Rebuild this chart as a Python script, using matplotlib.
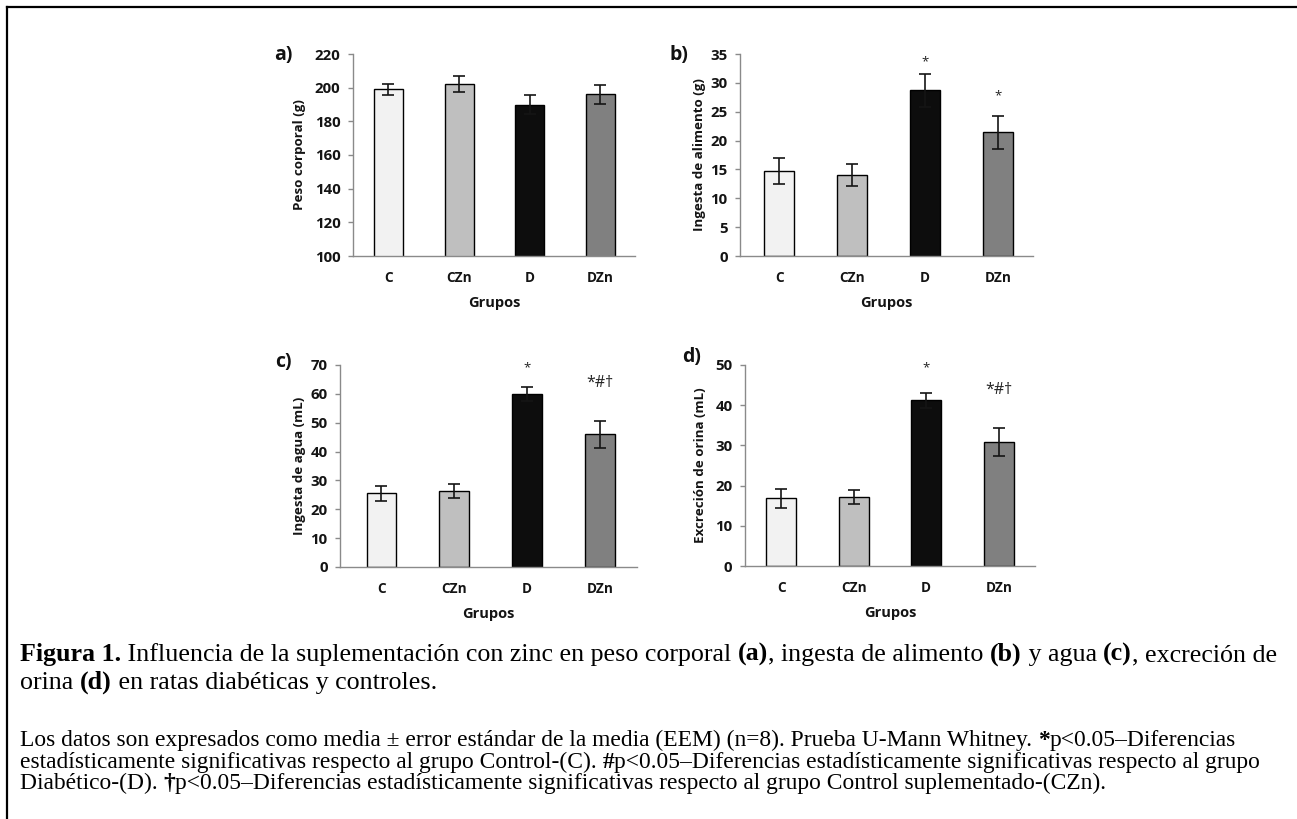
import matplotlib
matplotlib.use("Agg")
import matplotlib.pyplot as plt
from matplotlib.lines import Line2D

W, H, DPI = 1297, 819, 100

# ---- data -------------------------------------------------------------
groups = ["C", "CZn", "D", "DZn"]
bar_colors = ["#f2f2f2", "#bfbfbf", "#0d0d0d", "#808080"]

peso_mean = [199.0, 202.0, 190.0, 196.0]
peso_sem = [3.4, 4.8, 5.5, 5.7]

alimento_mean = [14.7, 14.0, 28.7, 21.4]
alimento_sem = [2.3, 1.9, 2.8, 2.9]

agua_mean = [25.6, 26.4, 60.0, 46.0]
agua_sem = [2.6, 2.5, 2.5, 4.7]

orina_mean = [16.8, 17.1, 41.2, 30.8]
orina_sem = [2.3, 1.7, 1.9, 3.5]

marks_b = ["", "", "*", "*"]
marks_cd = ["", "", "*", "*#†"]

# ---- figure -----------------------------------------------------------
fig = plt.figure(figsize=(W / DPI, H / DPI), dpi=DPI)
fig.patch.set_facecolor("white")

SANS = ["Open Sans", "DejaVu Sans"]
SERIF = ["Liberation Serif", "DejaVu Serif"]
SPINE = "#8a8a8a"
INK = "#141414"


def px_rect(l, t, r, b):
    return [l / W, 1 - b / H, (r - l) / W, (b - t) / H]


panels = [
    dict(tag="a)", mean=peso_mean, sem=peso_sem, marks=None,
         ylabel="Peso corporal (g)", ylim=(100, 220), step=20,
         box=(353, 54, 635, 256), xlim=(-0.5, 3.49), ylab_dx=53,
         tag_xy=(283, 55), offs=None),
    dict(tag="b)", mean=alimento_mean, sem=alimento_sem, marks=marks_b,
         ylabel="Ingesta de alimento (g)", ylim=(0, 35), step=5,
         box=(740, 54, 1033, 256), xlim=(-0.54, 3.48), ylab_dx=40,
         tag_xy=(679, 55), offs=[0, 0, 12, 20]),
    dict(tag="c)", mean=agua_mean, sem=agua_sem, marks=marks_cd,
         ylabel="Ingesta de agua (mL)", ylim=(0, 70), step=10,
         box=(340, 365, 637, 567), xlim=(-0.57, 3.51), ylab_dx=40,
         tag_xy=(283, 362), offs=[0, 0, 19, 38]),
    dict(tag="d)", mean=orina_mean, sem=orina_sem, marks=marks_cd,
         ylabel="Excreción de orina (mL)", ylim=(0, 50), step=10,
         box=(745, 365, 1035, 566), xlim=(-0.5, 3.5), ylab_dx=45,
         tag_xy=(692, 357), offs=[0, 0, 25, 38]),
]

for p in panels:
    l, t, r, b = p["box"]
    ax = fig.add_axes(px_rect(l, t, r, b))
    x = list(range(len(groups)))
    ax.bar(x, p["mean"], width=0.41, color=bar_colors, edgecolor="black",
           linewidth=1.0, yerr=p["sem"], capsize=4.2,
           error_kw=dict(elinewidth=1.2, capthick=1.2, ecolor="#151515"),
           zorder=2)
    ax.set_xlim(*p["xlim"])
    ax.set_ylim(*p["ylim"])
    lo, hi = p["ylim"]
    ax.set_yticks(range(lo, hi + 1, p["step"]))
    ax.set_xticks(x)
    ax.set_xticklabels(groups, fontfamily=SANS, fontweight="bold",
                       fontsize=9.8, color=INK)
    for lab in ax.get_yticklabels():
        lab.set_fontfamily(SANS)
        lab.set_fontweight("bold")
        lab.set_fontsize(10.8)
        lab.set_color(INK)
    for s in ("top", "right"):
        ax.spines[s].set_visible(False)
    for s in ("left", "bottom"):
        ax.spines[s].set_color(SPINE)
        ax.spines[s].set_linewidth(1.0)
    ax.tick_params(axis="y", length=3.5, width=1.0, color=SPINE, pad=5.5)
    ax.tick_params(axis="x", length=0, pad=10.5)

    ax.set_ylabel(p["ylabel"], fontfamily=SANS, fontweight="bold",
                  fontsize=9.6, color=INK)
    ax.yaxis.label.set_va("center")
    ax.yaxis.set_label_coords(-p["ylab_dx"] / (r - l), 0.5)
    ax.set_xlabel("Grupos", fontfamily=SANS, fontweight="bold",
                  fontsize=10.5, color=INK)
    ax.xaxis.label.set_va("center")
    ax.xaxis.set_label_coords(0.5, -47 / (b - t))

    if p["marks"]:
        for i, (m, s, mk, off) in enumerate(zip(p["mean"], p["sem"],
                                                p["marks"], p["offs"])):
            if not mk:
                continue
            size = 9.5 if mk == "*" else 11.5
            ax.annotate(mk, xy=(i, m + s), xytext=(0, off * 0.72),
                        textcoords="offset points", ha="center",
                        va="center", fontsize=size, color="#222222",
                        fontfamily=SANS)

    tx, ty = p["tag_xy"]
    fig.text(tx / W, 1 - ty / H, p["tag"], ha="center", va="center",
             fontsize=14, fontweight="bold", fontfamily=SANS,
             color="#111111")

# ---- frame ------------------------------------------------------------
fig.add_artist(Line2D([7 / W, 1.0], [1 - 7 / H, 1 - 7 / H],
                      transform=fig.transFigure, color="black", lw=1.6))
fig.add_artist(Line2D([7 / W, 7 / W], [0.0, 1 - 7 / H],
                      transform=fig.transFigure, color="black", lw=1.6))

# ---- caption ----------------------------------------------------------
renderer = fig.canvas.get_renderer()


def seg_width(s, bold, size):
    """Advance width of a string in pixels, trailing spaces included."""
    kw = dict(fontsize=size, fontfamily=SERIF,
              fontweight="bold" if bold else "normal")
    t1 = fig.text(0, 0, "|" + s + "|", **kw)
    t2 = fig.text(0, 0, "||", **kw)
    w = (t1.get_window_extent(renderer).width
         - t2.get_window_extent(renderer).width)
    t1.remove()
    t2.remove()
    return w


def line_width(segs, size):
    return sum(seg_width(s, b, size) for s, b in segs)


def draw_line(segs, x0, y_base, size):
    x = x0
    for s, b in segs:
        fig.text(x / W, 1 - y_base / H, s, fontsize=size, fontfamily=SERIF,
                 fontweight="bold" if b else "normal", ha="left",
                 va="baseline", color="black")
        x += seg_width(s, b, size)


cap_lines = [
    [("Figura 1.", True),
     (" Influencia de la suplementación con zinc en peso corporal ", False),
     ("(a)", True), (", ingesta de alimento ", False), ("(b)", True),
     (" y agua ", False), ("(c)", True), (", excreción de", False)],
    [("orina ", False), ("(d)", True),
     (" en ratas diabéticas y controles.", False)],
]
note_lines = [
    [("Los datos son expresados como media ± error estándar de la media "
      "(EEM) (n=8). Prueba U-Mann Whitney. ", False), ("*", True),
     ("p<0.05–Diferencias", False)],
    [("estadísticamente significativas respecto al grupo Control-(C). ",
      False), ("#", True),
     ("p<0.05–Diferencias estadísticamente significativas respecto al grupo",
      False)],
    [("Diabético-(D). ", False), ("†", True),
     ("p<0.05–Diferencias estadísticamente significativas respecto al grupo "
      "Control suplementado-(CZn).", False)],
]

X0 = 20
cap_size = 10 * 1260 / line_width(cap_lines[0], 10)
note_size = 10 * 1237 / line_width(note_lines[1], 10)

for segs, yb in zip(cap_lines, [661, 689]):
    draw_line(segs, X0, yb, cap_size)
for segs, yb in zip(note_lines, [746, 768, 789]):
    draw_line(segs, X0, yb, note_size)

fig.savefig("out.png", dpi=DPI, facecolor="white")
